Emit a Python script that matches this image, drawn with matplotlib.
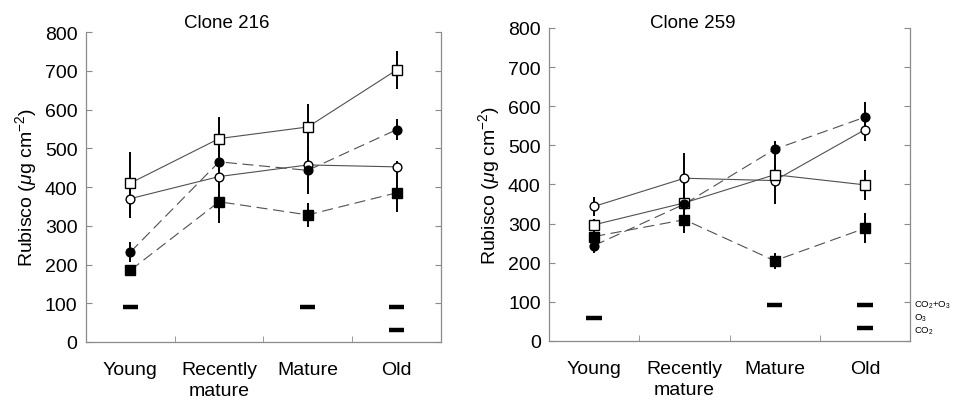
import numpy as np
import matplotlib
matplotlib.use('Agg')
import matplotlib.pyplot as plt

plt.rcParams['font.family'] = ['Liberation Sans', 'DejaVu Sans']
plt.rcParams['mathtext.fontset'] = 'custom'
plt.rcParams['mathtext.rm'] = 'Liberation Sans'
plt.rcParams['mathtext.it'] = 'Liberation Sans:italic'

# 叶龄类别
categories = ['Young', 'Recently\nmature', 'Mature', 'Old']

# Clone 216
c216_open_sq = [410, 525, 555, 702]
c216_open_sq_err = [80, 55, 58, 48]
c216_open_ci = [370, 427, 457, 452]
c216_open_ci_err = [50, 30, 30, 15]
c216_fill_ci = [232, 465, 443, 548]
c216_fill_ci_err = [25, 40, 60, 27]
c216_fill_sq = [185, 362, 328, 385]
c216_fill_sq_err = [15, 55, 32, 50]
c216_sig_x = [0, 2, 3, 3]
c216_sig_y = [90, 90, 90, 30]

# Clone 259
c259_open_sq = [297, 353, 425, 399]
c259_open_sq_err = [15, 30, 30, 38]
c259_open_ci = [344, 416, 410, 540]
c259_open_ci_err = [25, 65, 60, 30]
c259_fill_ci = [244, 350, 490, 572]
c259_fill_ci_err = [20, 30, 20, 38]
c259_fill_sq = [267, 310, 205, 288]
c259_fill_sq_err = [15, 35, 20, 38]
c259_sig_x = [0, 2, 3, 3]
c259_sig_y = [60, 92, 92, 32]

sig_labels = ['CO$_2$+O$_3$', 'O$_3$', 'CO$_2$']
sig_label_y = [95, 61, 28]

line_c = '#505050'
spine_c = '#8a8a8a'


def draw_panel(ax, series, sig_x, sig_y):
    x = np.arange(len(categories))
    for vals, errs, mk, face, ls in series:
        ax.errorbar(x, vals, yerr=errs, fmt='none', ecolor='black', elinewidth=1.4, capsize=0, zorder=2)
        ax.plot(x, vals, color=line_c, lw=0.8, ls=ls, dashes=(10, 5) if ls == '--' else (None, None), zorder=3)
        ax.plot(x, vals, ls='none', marker=mk, markersize=6.3 if mk == 'o' else 6.5,
                markerfacecolor=face, markeredgecolor='black', markeredgewidth=1.0, zorder=4)
    for sx, sy in zip(sig_x, sig_y):
        ax.hlines(sy, sx - 0.085, sx + 0.085, colors='black', lw=3.2, zorder=5)

    ax.set_xlim(-0.5, 3.5)
    ax.set_ylim(0, 800)
    ax.set_yticks(np.arange(0, 801, 100))
    ax.set_xticks(x)
    ax.set_xticklabels(categories, fontsize=14, linespacing=1.25)
    ax.set_xticks([0.5, 1.5, 2.5], minor=True)
    ax.tick_params(axis='x', which='major', length=0, pad=14)
    ax.tick_params(axis='x', which='minor', direction='in', length=4, color=spine_c)
    ax.tick_params(axis='y', which='major', direction='in', length=4, color=spine_c,
                   labelsize=14, right=True, pad=6)
    for s in ['left', 'right', 'bottom']:
        ax.spines[s].set_color(spine_c)
        ax.spines[s].set_linewidth(0.9)
    ax.spines['top'].set_visible(False)
    ax.set_ylabel(r'Rubisco ($\mu$g cm$^{-2}$)', fontsize=14, labelpad=4)


fig = plt.figure(figsize=(9.54, 4.02), dpi=100)
ax1 = fig.add_axes([0.0901, 0.1468, 0.3721, 0.771])
ax2 = fig.add_axes([0.5755, 0.1493, 0.3784, 0.7786])

draw_panel(ax1, [
    (c216_open_sq, c216_open_sq_err, 's', 'white', '-'),
    (c216_open_ci, c216_open_ci_err, 'o', 'white', '-'),
    (c216_fill_ci, c216_fill_ci_err, 'o', 'black', '--'),
    (c216_fill_sq, c216_fill_sq_err, 's', 'black', '--'),
], c216_sig_x, c216_sig_y)

draw_panel(ax2, [
    (c259_open_ci, c259_open_ci_err, 'o', 'white', '-'),
    (c259_open_sq, c259_open_sq_err, 's', 'white', '-'),
    (c259_fill_ci, c259_fill_ci_err, 'o', 'black', '--'),
    (c259_fill_sq, c259_fill_sq_err, 's', 'black', '--'),
], c259_sig_x, c259_sig_y)

fig.text(227 / 954, 1 - 23 / 402, 'Clone 216', ha='center', va='center', fontsize=13.5)
fig.text(693 / 954, 1 - 23 / 402, 'Clone 259', ha='center', va='center', fontsize=13.5)

for lab, ly in zip(sig_labels, sig_label_y):
    ax2.text(3.54, ly, lab, fontsize=6.8, ha='left', va='center', clip_on=False)

fig.savefig('out.png', dpi=100)
